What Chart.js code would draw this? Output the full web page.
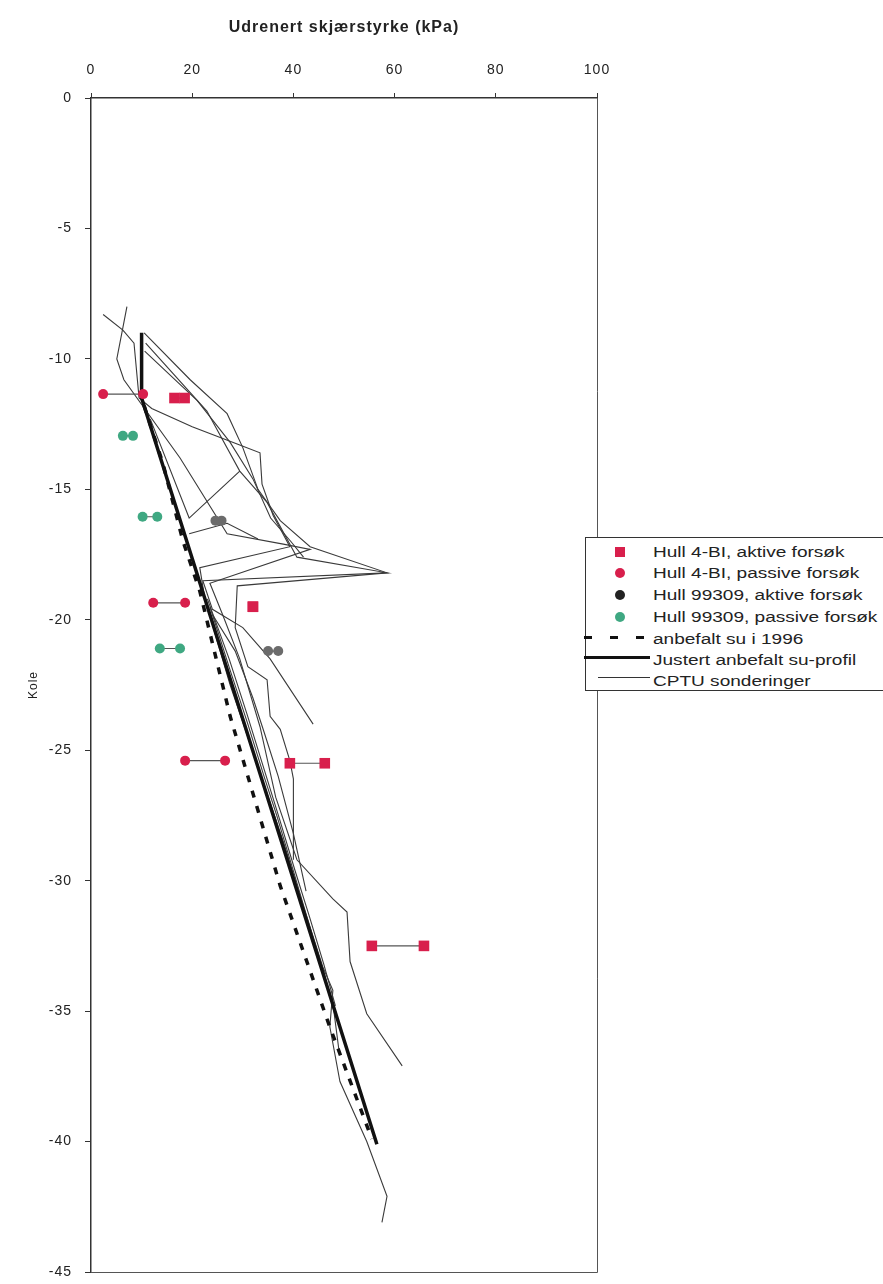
<!DOCTYPE html>
<html>
<head>
<meta charset="utf-8">
<script src="https://cdn.jsdelivr.net/npm/chart.js@4.4.0/dist/chart.umd.min.js"></script>
<style>
  html, body { margin: 0; padding: 0; background: #fff; }
  #wrap { position: relative; width: 883px; height: 1284px; overflow: hidden; }
  #legend {
    position: absolute; left: 585px; top: 537px; width: 320px; height: 152px;
    border: 1px solid #333; background: #fff;
    font-family: "Liberation Sans", Arial, sans-serif; font-size: 14px; color: #222;
  }
  #legend .t {
    position: absolute; left: 67px; white-space: nowrap; line-height: 16px;
    transform: scaleX(1.36); transform-origin: left center;
  }
  #legend .m { position: absolute; }
</style>
</head>
<body>
<div id="wrap">
  <canvas id="suChart" width="883" height="1284"></canvas>
  <div id="legend">
    <div class="m" style="left:29px;top:9px;width:10px;height:10px;background:#d81f4c;"></div>
    <div class="t" style="top:6px;">Hull 4-BI, aktive forsøk</div>
    <div class="m" style="left:29px;top:30px;width:10px;height:10px;border-radius:50%;background:#d81f4c;"></div>
    <div class="t" style="top:27px;">Hull 4-BI, passive forsøk</div>
    <div class="m" style="left:29px;top:52px;width:10px;height:10px;border-radius:50%;background:#222;"></div>
    <div class="t" style="top:49px;">Hull 99309, aktive forsøk</div>
    <div class="m" style="left:29px;top:74px;width:10px;height:10px;border-radius:50%;background:#3fa882;"></div>
    <div class="t" style="top:71px;">Hull 99309, passive forsøk</div>
    <div class="m" style="left:-2px;top:98px;width:62px;height:3px;background:repeating-linear-gradient(90deg,#111 0 8px,transparent 8px 26px);"></div>
    <div class="t" style="top:93px;">anbefalt su i 1996</div>
    <div class="m" style="left:-2px;top:118px;width:66px;height:3px;background:#111;"></div>
    <div class="t" style="top:114px;">Justert anbefalt su-profil</div>
    <div class="m" style="left:12px;top:139px;width:52px;height:1px;background:#333;"></div>
    <div class="t" style="top:135px;">CPTU sonderinger</div>
  </div>
</div>
<script>
// laboratorieforsøk: dybde (kote) og to su-verdier per forsøk
const aktivBI_y = [-11.5, -19.5, -25.5, -32.5];
const aktivBI_x1 = [16.5, 32, 39.3, 55.5];
const aktivBI_x2 = [18.5, 32, 46.2, 65.8];

const passivBI_y = [-11.35, -19.35, -25.4];
const passivBI_x1 = [2.4, 12.3, 18.6];
const passivBI_x2 = [10.3, 18.6, 26.5];

const aktiv99_y = [-16.2, -21.2];
const aktiv99_x1 = [24.6, 35];
const aktiv99_x2 = [25.8, 37];

const passiv99_y = [-12.95, -16.05, -21.1];
const passiv99_x1 = [6.3, 10.2, 13.6];
const passiv99_x2 = [8.3, 13.1, 17.6];

// su-profiler
const anbefalt1996 = [[10.5,-11.8],[14.2,-14],[18.2,-17],[21.5,-18.9],[27.5,-23.7],[37.4,-30.2],[47,-35.5],[55.5,-39.9]];
const justertProfil = [[10,-9],[10,-11.5],[56.5,-40.1]];

// CPTU sonderinger
const cptu1 = [[7.1,-8.0],[6.1,-9.0],[5.1,-10.0],[6.5,-10.8],[17.6,-13.8],[26.9,-16.7],[38,-17.1],[43.3,-17.3],[23.5,-18.6],[26,-19.8],[29.4,-21.5],[33.4,-24.1],[36.5,-26.8],[40.7,-29.2],[47.8,-30.7],[50.6,-31.2],[51.2,-33.1],[54.5,-35.1],[61.5,-37.1]];
const cptu2 = [[2.4,-8.3],[6.3,-8.9],[8.5,-9.4],[9.5,-11.5],[12,-11.9],[20,-12.6],[29.4,-13.3],[33.4,-13.6],[33.8,-14.8],[36,-16],[39.3,-17.2],[21.5,-18.0],[22.5,-19.2],[27.5,-22.5],[31,-24.5],[34.5,-26.5],[38,-28.5],[42,-31],[45.8,-33.3],[47.8,-34.2],[47.2,-35.6],[49.2,-37.7],[54.5,-40],[58.5,-42.1],[57.5,-43.1]];
const cptu3 = [[10.5,-9.0],[19.6,-10.8],[26.9,-12.1],[30,-13.4],[33,-15],[37.4,-16.2],[43.3,-17.2],[58.5,-18.2],[28.9,-18.7],[28.5,-20.3],[31,-21.8],[34.8,-22.3],[35.4,-23.7],[37.4,-24.2],[39.3,-25.4],[40,-26.1],[40,-29.2]];
const cptu4 = [[10.8,-9.4],[22.9,-12.0],[29.4,-14.3],[34.8,-15.5],[40.7,-17.6],[58.5,-18.2],[22.1,-18.5],[24,-19.6],[30,-20.3],[35.4,-21.5],[43.9,-24.0]];
const cptu5 = [[11.7,-12.3],[19.4,-16.1],[29.4,-14.3]];
const cptu6 = [[19.4,-16.7],[26.9,-16.3],[33,-16.9]];
const cptu7 = [[23.5,-19.5],[27.6,-22],[31,-24],[34.2,-26],[36.7,-27.5],[39.8,-29.5],[43.3,-31.8],[46,-33.5],[48,-35],[49,-36.5]];
const cptu8 = [[10.6,-9.7],[21,-11.6],[27.5,-13.2],[32,-14.6],[35.5,-16.1],[39.5,-17.0],[42,-17.6]];
const cptu9 = [[23,-19.2],[27.3,-21.5],[30.8,-23.6],[34,-25.6],[37.2,-27.6],[40.3,-29.6],[43.2,-31.4],[46,-33.2],[48.3,-34.8]];
const cptu10 = [[24,-19.8],[28.5,-21.2],[32,-23],[34.2,-24.3],[37,-26],[40,-28.2],[42.5,-30.4]];

function pairPoints(ys, x1, x2) {
  const pts = [];
  ys.forEach((y, i) => {
    pts.push({ x: x1[i], y }, { x: x2[i], y }, { x: NaN, y: NaN });
  });
  return pts;
}

function toXY(arr) {
  return arr.map(([x, y]) => ({ x, y }));
}

function markerDataset(label, data, color, style, radius) {
  return {
    label,
    data,
    showLine: true,
    spanGaps: false,
    borderColor: "#555",
    borderWidth: 1.2,
    pointStyle: style,
    pointRadius: radius,
    pointBackgroundColor: color,
    pointBorderColor: color,
    pointBorderWidth: 0,
    order: 0,
  };
}

function lineDataset(label, data, color, width, dash) {
  return {
    label,
    data: toXY(data),
    showLine: true,
    borderColor: color,
    borderWidth: width,
    borderDash: dash || [],
    pointRadius: 0,
    tension: 0,
    order: 1,
  };
}

const framePlugin = {
  id: "frame",
  beforeUpdate(chart) { chart.ctx.letterSpacing = "1px"; },
  beforeDraw(chart) { chart.ctx.letterSpacing = "1px"; },
  afterDraw(chart) {
    const { ctx, chartArea: a } = chart;
    ctx.save();
    ctx.strokeStyle = "#555";
    ctx.lineWidth = 1;
    ctx.beginPath();
    ctx.moveTo(a.right + 0.5, a.top);
    ctx.lineTo(a.right + 0.5, a.bottom + 0.5);
    ctx.lineTo(a.left, a.bottom + 0.5);
    ctx.stroke();
    ctx.restore();
  },
};

const cptuColor = "#3a3a3a";
const font = "'Liberation Sans', Arial, sans-serif";

const cptuSets = [cptu1, cptu2, cptu3, cptu4, cptu5, cptu6, cptu7, cptu8, cptu9, cptu10]
  .map((c, i) => lineDataset(i === 0 ? "CPTU sonderinger" : "CPTU " + (i + 1), c, cptuColor, 1.1));

new Chart(document.getElementById("suChart"), {
  type: "scatter",
  data: {
    datasets: [
      markerDataset("Hull 4-BI, aktive forsøk", pairPoints(aktivBI_y, aktivBI_x1, aktivBI_x2), "#d81f4c", "rect", 7.5),
      markerDataset("Hull 4-BI, passive forsøk", pairPoints(passivBI_y, passivBI_x1, passivBI_x2), "#d81f4c", "circle", 5),
      markerDataset("Hull 99309, aktive forsøk", pairPoints(aktiv99_y, aktiv99_x1, aktiv99_x2), "#6b6b6b", "circle", 5),
      markerDataset("Hull 99309, passive forsøk", pairPoints(passiv99_y, passiv99_x1, passiv99_x2), "#3fa882", "circle", 5),
      lineDataset("anbefalt su i 1996", anbefalt1996, "#111", 3.5, [7, 9]),
      lineDataset("Justert anbefalt su-profil", justertProfil, "#111", 3.5),
      ...cptuSets,
    ],
  },
  options: {
    responsive: false,
    animation: false,
    layout: { padding: { left: 0, top: 0, right: 286, bottom: 0 } },
    plugins: {
      legend: { display: false },
      tooltip: { enabled: false },
    },
    scales: {
      x: {
        type: "linear",
        position: "top",
        min: 0,
        max: 100,
        ticks: { stepSize: 20, color: "#222", font: { family: font, size: 14 }, padding: 14 },
        grid: { drawOnChartArea: false, tickLength: 5, color: "#333" },
        border: { color: "#333", width: 1.5 },
        title: {
          display: true,
          text: "Udrenert skjærstyrke (kPa)",
          color: "#222",
          font: { family: font, size: 16, weight: "bold" },
          padding: { top: 18, bottom: 0 },
        },
        afterFit(scale) { scale.height = 98; },
      },
      y: {
        type: "linear",
        min: -45,
        max: 0,
        ticks: { stepSize: 5, color: "#222", font: { family: font, size: 14 }, padding: 13 },
        grid: { drawOnChartArea: false, tickLength: 6, color: "#333" },
        border: { color: "#333", width: 1.5 },
        title: {
          display: true,
          text: "Kole",
          color: "#222",
          font: { family: font, size: 12 },
          padding: { top: 26, bottom: 0 },
        },
        afterFit(scale) {
          scale.width = 91;
          scale.paddingTop = 0;
          scale.paddingBottom = 12;
        },
      },
    },
  },
  plugins: [framePlugin],
});
</script>
</body>
</html>
